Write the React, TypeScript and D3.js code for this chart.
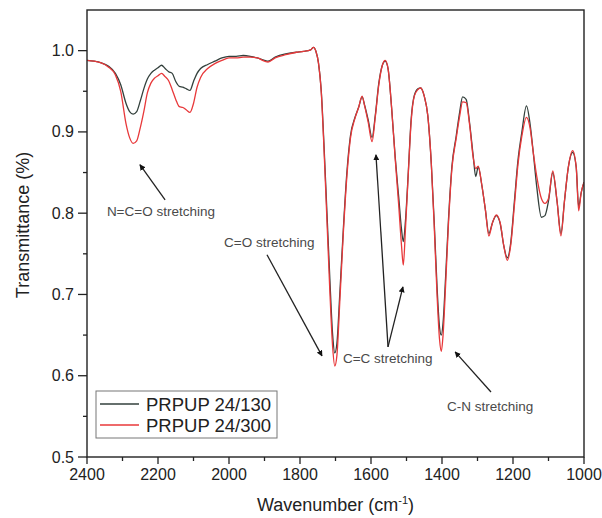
import React, { useEffect, useRef } from "react";
import * as d3 from "d3";

const wavenumbers = [
  2400, 2380, 2360, 2340, 2320, 2305, 2290, 2280, 2270, 2260, 2250, 2240, 2230, 2220, 2210, 2200,
  2190, 2180, 2170, 2160, 2150, 2140, 2130, 2120, 2110, 2100, 2090, 2080, 2060, 2040, 2020, 2000,
  1980, 1960, 1940, 1920, 1900, 1890, 1870, 1840, 1810, 1790, 1770, 1762, 1755, 1748, 1740, 1732,
  1724, 1716, 1708, 1702, 1696, 1688, 1678, 1668, 1658, 1645, 1635, 1625, 1618, 1608, 1597, 1588,
  1578, 1568, 1560, 1552, 1542, 1532, 1522, 1514, 1509, 1503, 1495, 1487, 1478, 1468, 1460, 1450,
  1440, 1430, 1422, 1414, 1407, 1402, 1397, 1390, 1382, 1372, 1360, 1350, 1342, 1332, 1322, 1312,
  1305, 1298, 1288, 1278, 1268, 1258, 1247, 1236, 1226, 1216, 1206, 1196, 1186, 1175, 1162, 1152,
  1143, 1133, 1120, 1110, 1100, 1088, 1076, 1065, 1055, 1044, 1032, 1022, 1015, 1008, 1000,
];

const prpup130 = [
  0.988, 0.987, 0.985, 0.981, 0.972, 0.958, 0.935, 0.925, 0.922, 0.925, 0.938, 0.953, 0.965, 0.972, 0.976, 0.979,
  0.982, 0.978, 0.974, 0.972, 0.962, 0.956, 0.955, 0.953, 0.951, 0.962, 0.972, 0.978, 0.983, 0.987, 0.991, 0.993,
  0.993, 0.994, 0.993, 0.991, 0.988, 0.987, 0.992, 0.996, 0.998, 0.999, 1.001, 1.004, 0.999, 0.985, 0.95, 0.88,
  0.8, 0.72, 0.65, 0.628, 0.64, 0.7, 0.78, 0.85, 0.895, 0.918, 0.93, 0.943, 0.933, 0.915, 0.893, 0.92,
  0.96, 0.982, 0.987, 0.978, 0.93, 0.87, 0.82, 0.78, 0.765, 0.79, 0.85, 0.915, 0.945, 0.953, 0.954, 0.944,
  0.92, 0.86, 0.79, 0.71, 0.66, 0.65, 0.665, 0.72, 0.79, 0.858, 0.895, 0.925, 0.943, 0.94, 0.91, 0.87,
  0.845, 0.857, 0.835, 0.805, 0.775, 0.788, 0.797, 0.787, 0.76, 0.745, 0.765, 0.815, 0.865, 0.9, 0.932, 0.91,
  0.875, 0.832, 0.795, 0.797, 0.815, 0.85, 0.815, 0.775, 0.815, 0.857, 0.875, 0.857, 0.808, 0.825, 0.838,
];

const prpup300 = [
  0.988, 0.987, 0.985, 0.98, 0.97, 0.95, 0.91, 0.893, 0.886, 0.889, 0.905, 0.925, 0.948, 0.96, 0.966, 0.969,
  0.972, 0.968, 0.963, 0.952, 0.94, 0.931, 0.93, 0.927, 0.924, 0.935, 0.955, 0.967, 0.978, 0.984, 0.988, 0.991,
  0.991, 0.992, 0.992, 0.991, 0.987, 0.986, 0.991, 0.995, 0.998, 0.999, 1.001, 1.004, 0.999, 0.985, 0.948, 0.875,
  0.79, 0.705, 0.635, 0.612, 0.625, 0.69, 0.775, 0.845, 0.892, 0.917, 0.93, 0.944, 0.932, 0.912, 0.888, 0.918,
  0.958, 0.982, 0.988, 0.978, 0.93, 0.868, 0.81, 0.76, 0.736, 0.78, 0.848, 0.912, 0.944, 0.952, 0.954, 0.944,
  0.92, 0.86, 0.785, 0.7, 0.645, 0.63, 0.65, 0.71, 0.785, 0.855, 0.892, 0.92, 0.937, 0.936, 0.908, 0.868,
  0.855, 0.858, 0.835, 0.805, 0.772, 0.788, 0.798, 0.788, 0.76, 0.742, 0.762, 0.81, 0.86, 0.895, 0.918, 0.905,
  0.875, 0.845, 0.818, 0.812, 0.818, 0.852, 0.815, 0.772, 0.815, 0.857, 0.877, 0.857, 0.803, 0.825, 0.838,
];

const seriesNames = ["PRPUP 24/130", "PRPUP 24/300"];
const seriesColors = ["#33403c", "#e8383a"];
const xTicks = [2400, 2200, 2000, 1800, 1600, 1400, 1200, 1000];
const xMinorTicks = [2300, 2100, 1900, 1700, 1500, 1300, 1100];
const yTicks = [0.5, 0.6, 0.7, 0.8, 0.9, 1.0];
const yMinorTicks = [0.55, 0.65, 0.75, 0.85, 0.95];

// annotation text anchor (wavenumber, transmittance) and arrows [fromWn, fromT, toWn, toT]
const annotations = [
  { label: "N=C=O stretching", wn: 2344, t: 0.797, arrows: [[2180, 0.8165, 2251, 0.8596]] },
  { label: "C=O stretching", wn: 2014, t: 0.758, arrows: [[1893, 0.7488, 1738, 0.6244]] },
  { label: "C=C stretching", wn: 1679, t: 0.616, arrows: [[1552, 0.6355, 1586, 0.8719], [1552, 0.6355, 1510, 0.7094]] },
  { label: "C-N stretching", wn: 1386, t: 0.557, arrows: [[1262, 0.58, 1363, 0.6293]] },
];

const W = 602;
const H = 518;
const margin = { left: 87, right: 18, top: 10, bottom: 61 };

export default function App() {
  const ref = useRef<SVGSVGElement | null>(null);

  useEffect(() => {
    const svg = d3.select(ref.current);
    svg.selectAll("*").remove();
    const font = "'Liberation Sans', Arial, sans-serif";

    const x = d3.scaleLinear().domain([2400, 1000]).range([margin.left, W - margin.right]);
    const y = d3.scaleLinear().domain([0.5, 1.05]).range([H - margin.bottom, margin.top]);

    svg.append("rect").attr("width", W).attr("height", H).attr("fill", "#ffffff");

    const defs = svg.append("defs");
    defs
      .append("marker")
      .attr("id", "ah")
      .attr("viewBox", "0 0 10 10")
      .attr("refX", 9)
      .attr("refY", 5)
      .attr("markerWidth", 6)
      .attr("markerHeight", 6)
      .attr("markerUnits", "userSpaceOnUse")
      .attr("orient", "auto")
      .append("path")
      .attr("d", "M0,0 L10,5 L0,10 z")
      .attr("fill", "#111");

    const clip = defs.append("clipPath").attr("id", "plotclip");
    clip
      .append("rect")
      .attr("x", margin.left)
      .attr("y", margin.top)
      .attr("width", W - margin.left - margin.right)
      .attr("height", H - margin.top - margin.bottom);

    const line = d3
      .line<number>()
      .x((_, i) => x(wavenumbers[i]))
      .y((d) => y(d))
      .curve(d3.curveMonotoneX);

    const g = svg.append("g").attr("clip-path", "url(#plotclip)");
    [prpup130, prpup300].forEach((s, k) => {
      g.append("path")
        .attr("d", line(s) as string)
        .attr("fill", "none")
        .attr("stroke", seriesColors[k])
        .attr("stroke-width", 1.3)
        .attr("stroke-linejoin", "round");
    });

    // frame
    svg
      .append("rect")
      .attr("x", margin.left)
      .attr("y", margin.top)
      .attr("width", W - margin.left - margin.right)
      .attr("height", H - margin.top - margin.bottom)
      .attr("fill", "none")
      .attr("stroke", "#222")
      .attr("stroke-width", 1.4);

    const yb = H - margin.bottom;
    // x ticks
    xTicks.forEach((v) => {
      svg.append("line").attr("x1", x(v)).attr("x2", x(v)).attr("y1", yb).attr("y2", yb + 7).attr("stroke", "#222").attr("stroke-width", 1.3);
      svg
        .append("text")
        .attr("x", x(v))
        .attr("y", yb + 23)
        .attr("text-anchor", "middle")
        .attr("font-family", font)
        .attr("font-size", 16)
        .attr("fill", "#222")
        .text(String(v));
    });
    xMinorTicks.forEach((v) => {
      svg.append("line").attr("x1", x(v)).attr("x2", x(v)).attr("y1", yb).attr("y2", yb + 4).attr("stroke", "#222").attr("stroke-width", 1.3);
    });
    // y ticks
    yTicks.forEach((v) => {
      svg.append("line").attr("x1", margin.left - 9).attr("x2", margin.left).attr("y1", y(v)).attr("y2", y(v)).attr("stroke", "#222").attr("stroke-width", 1.3);
      svg
        .append("text")
        .attr("x", margin.left - 13)
        .attr("y", y(v) + 5.5)
        .attr("text-anchor", "end")
        .attr("font-family", font)
        .attr("font-size", 16)
        .attr("fill", "#222")
        .text(v.toFixed(1));
    });
    yMinorTicks.forEach((v) => {
      svg.append("line").attr("x1", margin.left - 4).attr("x2", margin.left).attr("y1", y(v)).attr("y2", y(v)).attr("stroke", "#222").attr("stroke-width", 1.3);
    });

    // axis titles
    const xt = svg
      .append("text")
      .attr("x", (margin.left + W - margin.right) / 2)
      .attr("y", 511)
      .attr("text-anchor", "middle")
      .attr("font-family", font)
      .attr("font-size", 18)
      .attr("fill", "#222");
    xt.append("tspan").text("Wavenumber (cm");
    xt.append("tspan").attr("dy", -7).attr("font-size", 11).text("-1");
    xt.append("tspan").attr("dy", 7).text(")");

    svg
      .append("text")
      .attr("transform", `translate(29, 225) rotate(-90)`)
      .attr("text-anchor", "middle")
      .attr("font-family", font)
      .attr("font-size", 18)
      .attr("fill", "#222")
      .text("Transmittance (%)");

    // annotations
    annotations.forEach((a) => {
      svg
        .append("text")
        .attr("x", x(a.wn))
        .attr("y", y(a.t))
        .attr("font-family", font)
        .attr("font-size", 13.5)
        .attr("fill", "#4a4a4a")
        .text(a.label);
      a.arrows.forEach((ar) => {
        svg
          .append("line")
          .attr("x1", x(ar[0]))
          .attr("y1", y(ar[1]))
          .attr("x2", x(ar[2]))
          .attr("y2", y(ar[3]))
          .attr("stroke", "#222")
          .attr("stroke-width", 1.3)
          .attr("marker-end", "url(#ah)");
      });
    });

    // legend
    const lg = svg.append("g");
    lg.append("rect")
      .attr("x", 96)
      .attr("y", 391)
      .attr("width", 181)
      .attr("height", 47)
      .attr("fill", "#fff")
      .attr("stroke", "#777")
      .attr("stroke-width", 1);
    seriesNames.forEach((n, k) => {
      const cy = 404 + k * 21;
      lg.append("line").attr("x1", 100).attr("x2", 139).attr("y1", cy).attr("y2", cy).attr("stroke", seriesColors[k]).attr("stroke-width", 1.3);
      lg.append("text")
        .attr("x", 146)
        .attr("y", cy + 6.5)
        .attr("font-family", font)
        .attr("font-size", 18.5)
        .attr("fill", "#222")
        .text(n);
    });
  }, []);

  return (
    <svg
      ref={ref}
      width={W}
      height={H}
      style={{ position: "absolute", left: 0, top: 0, display: "block" }}
    />
  );
}
